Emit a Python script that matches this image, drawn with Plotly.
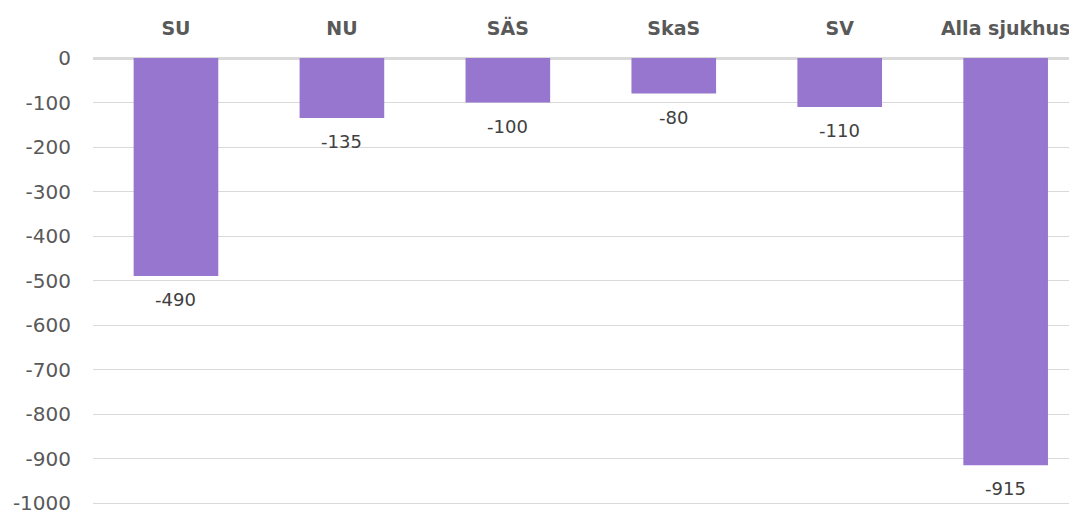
import plotly.graph_objects as go

categories = ["SU", "NU", "SÄS", "SkaS", "SV", "Alla sjukhus"]
values = [-490, -135, -100, -80, -110, -915]
y_ticks = [0, -100, -200, -300, -400, -500, -600, -700, -800, -900, -1000]

FONT = "Verdana, DejaVu Sans, sans-serif"

fig = go.Figure()
fig.add_trace(go.Bar(
    x=list(range(len(categories))), y=values,
    marker=dict(color="#9676CE", line=dict(width=0)),
    width=0.51,
    hoverinfo="skip",
))

for i, v in enumerate(values):
    fig.add_annotation(x=i, y=v, text=str(v), showarrow=False,
                       yanchor="top", yshift=-11,
                       font=dict(family=FONT, size=18, color="#404040"))

fig.update_layout(
    width=1069, height=522,
    margin=dict(l=85, r=0, t=50, b=25),
    paper_bgcolor="white", plot_bgcolor="white",
    showlegend=False,
    xaxis=dict(
        side="top",
        range=[-0.5, 5.43],
        tickmode="array", tickvals=list(range(len(categories))), ticktext=categories,
        tickfont=dict(family=FONT, size=19, color="#595959", weight="bold"),
        showgrid=False, zeroline=False, showline=False, ticks="",
        ticklabelstandoff=18, automargin=False,
    ),
    yaxis=dict(
        range=[-1004.5, 0],
        tickmode="array", tickvals=y_ticks, ticktext=[str(t) for t in y_ticks],
        tickfont=dict(family=FONT, size=20, color="#595959"),
        showgrid=True, gridcolor="#d9d9d9", gridwidth=1,
        zeroline=True, zerolinecolor="#d9d9d9", zerolinewidth=2.5,
        showline=False, ticks="",
        ticklabelstandoff=21, automargin=False,
    ),
)

fig.write_html("out.html")
